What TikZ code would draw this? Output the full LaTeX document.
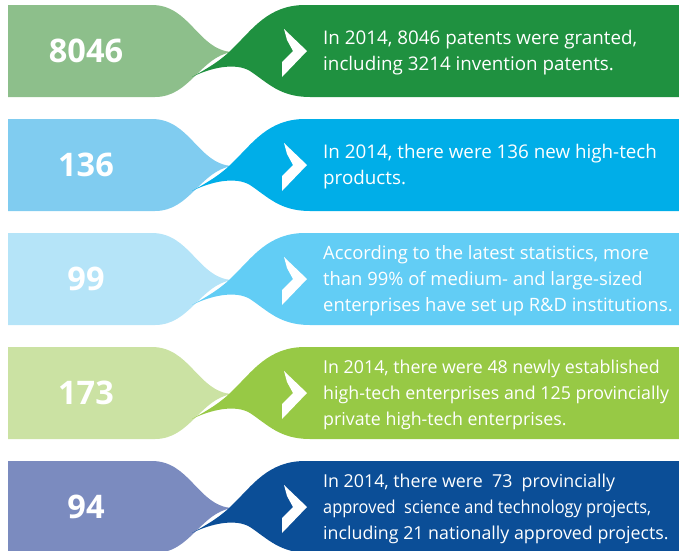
\documentclass[tikz,border=0pt]{standalone}
\usepackage{graphicx}
\usepackage{fontspec}
\setmainfont{Open Sans}
\definecolor{lgA}{HTML}{8DBF8B}\definecolor{dkA}{HTML}{1F9140}
\definecolor{lgB}{HTML}{80CCF0}\definecolor{dkB}{HTML}{00AEE8}
\definecolor{lgC}{HTML}{B5E4F8}\definecolor{dkC}{HTML}{62CDF5}
\definecolor{lgD}{HTML}{CBE2A3}\definecolor{dkD}{HTML}{97C945}
\definecolor{lgE}{HTML}{7B8BBF}\definecolor{dkE}{HTML}{0B4E97}
\tikzset{
  numtext/.style={font=\fontsize{32.5}{32.5}\selectfont\bfseries, text=white, anchor=base, inner sep=0pt},
  desctext/.style={text=white, align=left, anchor=west, inner sep=0pt},
}
\newcommand\inforow[7]{%
\begin{scope}[shift={(0,#1)}]
\fill[#2] (8,0) -- (152,0) .. controls (190,0) and (198,45) .. (232,47) .. controls (200,52) and (190,92) .. (155,92) -- (8,92) -- cycle;
\fill[#3] (192,72) .. controls (208,63) and (222,55) .. (234,42) .. controls (252,25) and (268,0) .. (305,0) -- (690,0) -- (690,92) -- (310,92) .. controls (280,92) and (268,78) .. (250,66) .. controls (235,57) and (210,63) .. (192,72) -- cycle;
\fill[white] (284,24) -- (307,46) -- (282,72) -- (282,57) -- (293,46) -- (287,35) -- cycle;
\node[numtext] (num#6) at (86,57.5) {#4};
\node[desctext, font=\fontsize{#7}{26}\selectfont] (txt#6) at (323,47.5) {#5};
\end{scope}}
\begin{document}
\begin{tikzpicture}[x=1pt,y=-1pt]
\useasboundingbox (0,0) rectangle (679,550);
\clip (0,0) rectangle (679,550);
\inforow{5}{lgA}{dkA}{8046}{In 2014, 8046 patents were granted,\\including 3214 invention patents.}{A}{18.8}
\inforow{119}{lgB}{dkB}{136}{In 2014, there were 136 new high-tech\\products.}{B}{18.8}
\inforow{233}{lgC}{dkC}{99}{According to the latest statistics, more\\than 99\% of medium- and large-sized\\enterprises have set up R\&D institutions.}{C}{18.4}
\inforow{347}{lgD}{dkD}{173}{In 2014, there were 48 newly established\\high-tech enterprises and 125 provincially\\private high-tech enterprises.}{D}{17.8}
\inforow{461}{lgE}{dkE}{94}{In 2014, there were\ \ 73\ \ provincially\\\scalebox{0.92}[1]{approved\ \ science and technology projects,}\\including 21 nationally approved projects.}{E}{17.8}
\end{tikzpicture}
\end{document}
